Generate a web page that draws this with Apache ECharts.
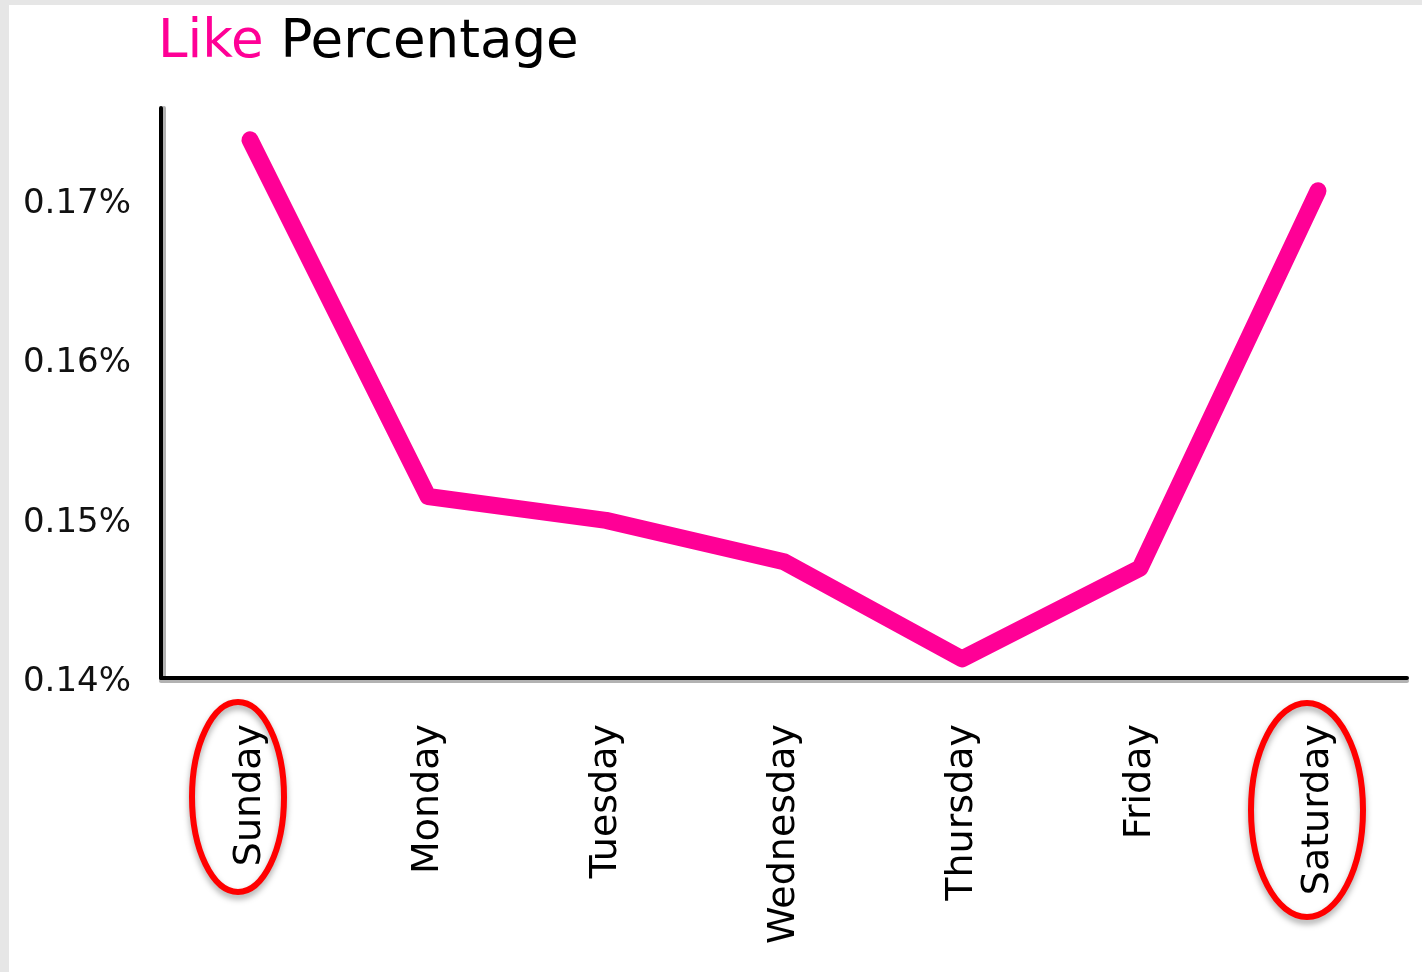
<!DOCTYPE html>
<html>
<head>
<meta charset="utf-8">
<title>Like Percentage</title>
<script src="https://cdn.jsdelivr.net/npm/echarts@6/dist/echarts.min.js"></script>
<style>
  html, body { margin: 0; padding: 0; background: #fff; }
  #chart { width: 1422px; height: 972px; }
</style>
</head>
<body>
<div id="chart"></div>
<script>
// Weekday categories and like percentage per day
const days = ['Sunday', 'Monday', 'Tuesday', 'Wednesday', 'Thursday', 'Friday', 'Saturday'];
const likePct = [0.1738, 0.1514, 0.1499, 0.1473, 0.1412, 0.1469, 0.1706];
const yTicks = [0.14, 0.15, 0.16, 0.17];
// Days singled out with a red ring
const highlighted = ['Sunday', 'Saturday'];

const FONT = 'DejaVu Sans';
const chart = echarts.init(document.getElementById('chart'), null, { renderer: 'canvas' });

chart.setOption({
  backgroundColor: '#ffffff',
  animation: false,
  title: {
    text: '{a|Like} {b|Percentage}',
    left: 153,
    top: 12,
    textStyle: {
      fontWeight: 'normal',
      fontFamily: FONT,
      fontSize: 53,
      rich: {
        a: { color: '#ff0096', fontFamily: FONT, fontSize: 53, fontWeight: 'normal' },
        b: { color: '#000000', fontFamily: FONT, fontSize: 53, fontWeight: 'normal' }
      }
    }
  },
  grid: { left: 161, right: 15, top: 108, bottom: 294, containLabel: false },
  xAxis: {
    type: 'category',
    data: days,
    boundaryGap: true,
    axisLine: {
      lineStyle: { color: '#000', width: 4, shadowColor: 'rgba(0,0,0,0.3)', shadowOffsetX: 0, shadowOffsetY: 3, shadowBlur: 0 }
    },
    axisTick: { show: false },
    axisLabel: {
      rotate: 90,
      margin: 46,
      color: '#000',
      fontFamily: FONT,
      fontSize: 38
    }
  },
  yAxis: {
    type: 'value',
    min: yTicks[0],
    max: 0.1758,
    interval: 0.01,
    splitLine: { show: false },
    axisTick: { show: false },
    axisLine: {
      show: true,
      lineStyle: { color: '#000', width: 4, shadowColor: 'rgba(0,0,0,0.3)', shadowOffsetX: 3, shadowOffsetY: 0, shadowBlur: 0 }
    },
    axisLabel: {
      showMaxLabel: false,
      margin: 30,
      color: '#111',
      fontFamily: FONT,
      fontSize: 34,
      formatter: v => '{v|' + v.toFixed(2) + '%}',
      rich: {
        v: { fontFamily: FONT, fontSize: 34, color: '#111', padding: [8, 0, 0, 0] }
      }
    }
  },
  series: [{
    type: 'line',
    data: likePct,
    symbol: 'none',
    lineStyle: { color: '#ff0096', width: 17, cap: 'round', join: 'round' }
  }]
});

// Page frame strips and red rings around the highlighted day labels
function drawExtras() {
  const rings = highlighted.map((d, i) => {
    const cx = chart.convertToPixel({ xAxisIndex: 0 }, d);
    const axisY = chart.convertToPixel({ yAxisIndex: 0 }, yTicks[0]);
    const big = i === 1;
    return {
      type: 'ellipse',
      shape: { cx: cx - (big ? 11 : 12), cy: axisY + (big ? 132 : 119), rx: big ? 56 : 46, ry: big ? 107 : 95 },
      style: {
        fill: 'none', stroke: '#ff0000', lineWidth: 6,
        shadowColor: 'rgba(0,0,0,0.35)', shadowBlur: 6, shadowOffsetY: 4
      },
      z: 10
    };
  });
  chart.setOption({
    graphic: [
      { type: 'rect', shape: { x: 0, y: 0, width: 9, height: 972 }, style: { fill: '#e6e6e6' }, z: -10 },
      { type: 'rect', shape: { x: 0, y: 0, width: 1422, height: 5 }, style: { fill: '#e6e6e6' }, z: -10 }
    ].concat(rings)
  });
}
drawExtras();
</script>
</body>
</html>
